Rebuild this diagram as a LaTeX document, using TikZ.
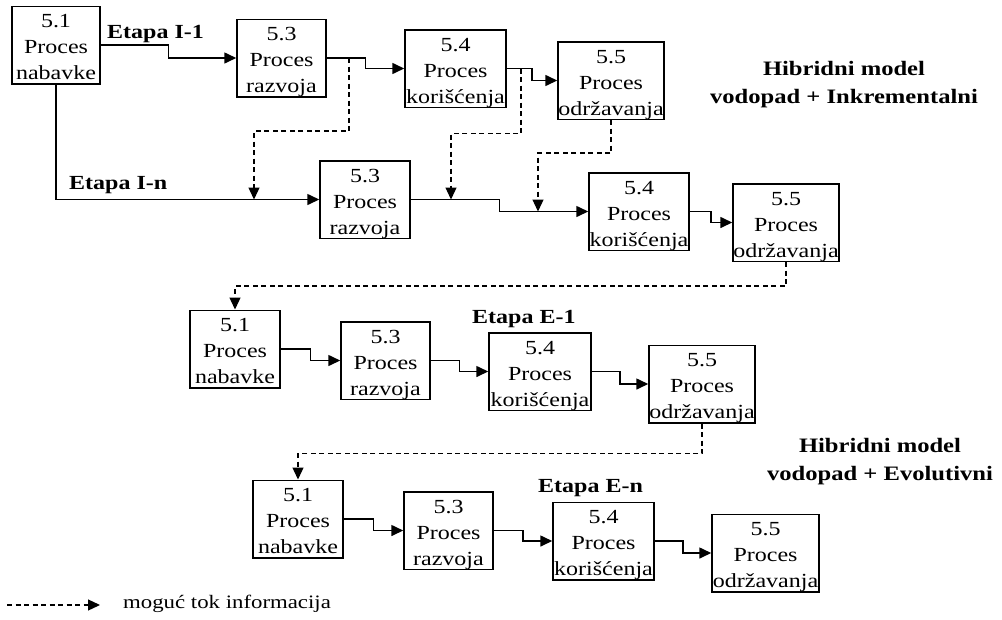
\documentclass[tikz,border=0pt]{standalone}
\usepackage{fontspec}
\setmainfont{Liberation Serif}[FakeStretch=1.2]
\usetikzlibrary{calc,arrows.meta}
\newcommand{\procbox}[6]{%
  \node[proc, minimum width=#4pt] (#1) at (#2,#3) {};
  \node[proctext, anchor=north] (#1txt) at ([yshift=-9pt]#1.north) {#5\\Proces\\#6};
}

\begin{document}
\begin{tikzpicture}[x=1pt, y=-1pt,
  proc/.style={draw, line width=1.5pt, minimum height=77.5pt, inner sep=0pt},
  proctext/.style={align=center, inner sep=0pt, font=\fontsize{20}{26}\selectfont},
  etapa/.style={font=\bfseries\fontsize{20}{24}\selectfont, inner sep=0pt, anchor=base west},
  model/.style={align=center, inner sep=0pt, anchor=north, font=\bfseries\fontsize{20.5}{28}\selectfont},
  flow/.style={line width=1.6pt, -{Triangle[length=12pt,width=11pt]}},
  info/.style={line width=1.3pt, dash pattern=on 5pt off 3.5pt, -{Triangle[length=12pt,width=11pt]}},
  elbow/.style={to path={(\tikztostart.east) -| ($(\tikztostart.east)!0.5!(\tikztotarget.west)$) |- (\tikztotarget.west)}}]
  \useasboundingbox (0,0) rectangle (1002,619);

  % Etapa I-1
  \procbox{a1}{56}{45}{88}{5.1}{nabavke}
  \procbox{a3}{281.5}{58}{89}{5.3}{razvoja}
  \procbox{a4}{455.5}{68.5}{101}{5.4}{korišćenja}
  \procbox{a5}{611}{80.5}{106}{5.5}{održavanja}

  % Etapa I-n
  \procbox{b3}{365}{199.5}{90}{5.3}{razvoja}
  \procbox{b4}{639}{211.5}{100}{5.4}{korišćenja}
  \procbox{b5}{786}{222.5}{106}{5.5}{održavanja}

  % Etapa E-1
  \procbox{c1}{235}{349}{90}{5.1}{nabavke}
  \procbox{c3}{385.5}{360.5}{89}{5.3}{razvoja}
  \procbox{c4}{540}{371.5}{102}{5.4}{korišćenja}
  \procbox{c5}{702}{384}{106}{5.5}{održavanja}

  % Etapa E-n
  \procbox{d1}{298}{519}{90}{5.1}{nabavke}
  \procbox{d3}{448.5}{530.5}{89}{5.3}{razvoja}
  \procbox{d4}{603.5}{541}{101}{5.4}{korišćenja}
  \procbox{d5}{765.5}{553}{107}{5.5}{održavanja}

  % solid flow
  \draw[flow] (a1) to[elbow] (a3);
  \draw[flow] (a3) to[elbow] (a4);
  \draw[flow] (a4) to[elbow] (a5);
  \draw[flow] (a1.south) |- (b3.west);
  \draw[flow] (b3) to[elbow] (b4);
  \draw[flow] (b4) to[elbow] (b5);
  \draw[flow] (c1) to[elbow] (c3);
  \draw[flow] (c3) to[elbow] (c4);
  \draw[flow] (c4) to[elbow] (c5);
  \draw[flow] (d1) to[elbow] (d3);
  \draw[flow] (d3) to[elbow] (d4);
  \draw[flow] (d4) to[elbow] (d5);

  % possible information flow
  \coordinate (t1) at (349,58);
  \coordinate (t2) at (521,68.5);
  \coordinate (r1) at (254,199.5);
  \coordinate (r2) at (451,199.5);
  \coordinate (r3) at (538,211.5);
  \draw[info] (t1) -- ++(0,73) -| (r1);
  \draw[info] (t2) -- ++(0,65) -| (r2);
  \draw[info] (a5.south) -- ++(0,33) -| (r3);
  \draw[info] (b5.south) -- ++(0,24) -| (c1.north);
  \draw[info] (c5.south) -- ++(0,30) -| (d1.north);

  % labels
  \node[etapa] (e1) at (107,38) {Etapa I-1};
  \node[etapa] (en) at (69,189) {Etapa I-n};
  \node[etapa] (f1) at (472,323) {Etapa E-1};
  \node[etapa] (fn) at (538,492) {Etapa E-n};
  \node[model] (inkr) at (844,61) {Hibridni model\\vodopad + Inkrementalni};
  \node[model] (evol) at (880,438) {Hibridni model\\vodopad + Evolutivni};

  % legend
  \coordinate (lg) at (7,605);
  \node[anchor=base west, inner sep=0pt, font=\fontsize{19}{23}\selectfont] (legtxt) at (123,608) {moguć tok informacija};
  \draw[info] (lg) -- ([xshift=-23pt]lg -| legtxt.west);
\end{tikzpicture}
\end{document}
